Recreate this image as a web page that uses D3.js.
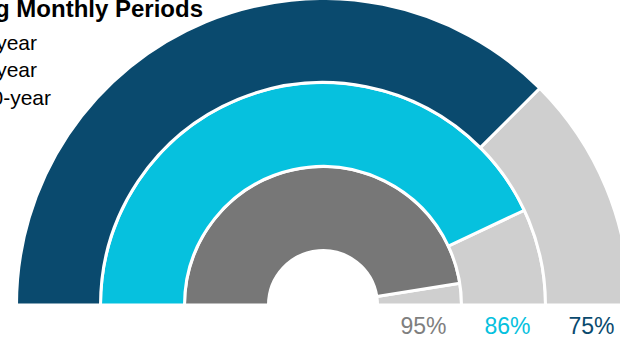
<!DOCTYPE html>
<html>
<head>
<meta charset="utf-8">
<script src="https://cdn.jsdelivr.net/npm/d3@7"></script>
<style>
  html, body { margin: 0; padding: 0; background: #fff; overflow: hidden; }
  svg { display: block; font-family: Arial, "Liberation Sans", sans-serif; }
</style>
</head>
<body>
<svg id="chart" width="620" height="339"></svg>
<script>
// rolling periods, innermost ring first
const periods = ['10-year', '3-year', '1-year'];
const positivePct = [95, 86, 75];
const ringColors = ['#777777', '#06c1de', '#0a4a6e'];
const labelColors = ['#7f7f7f', '#06c1de', '#0a4a6e'];
const legendOrder = ['1-year', '3-year', '10-year'];
const title = 'Percentage of Positive Returns over Rolling Monthly Periods';

const svg = d3.select('#chart');
const cx = 323, cy = 305;

// radial bands, one per ring
const r = d3.scaleBand().domain(periods).range([54.5, 306.5]).paddingInner(0);
// percent -> angle over a half circle, left to right
const ang = d3.scaleLinear().domain([0, 100]).range([-Math.PI / 2, Math.PI / 2]);

const arc = d3.arc();
const g = svg.append('g').attr('transform', `translate(${cx},${cy})`);

periods.forEach((p, i) => {
  const r0 = r(p), r1 = r(p) + r.bandwidth();
  // remainder
  g.append('path')
    .attr('d', arc({ innerRadius: r0, outerRadius: r1, startAngle: ang(positivePct[i]), endAngle: ang(100) }))
    .attr('fill', '#cfcfcf')
    .attr('stroke', '#fff').attr('stroke-width', 3);
  // positive share
  g.append('path')
    .attr('d', arc({ innerRadius: r0, outerRadius: r1, startAngle: ang(0), endAngle: ang(positivePct[i]) }))
    .attr('fill', ringColors[i])
    .attr('stroke', '#fff').attr('stroke-width', 3);
  // value label under the right end of the ring
  g.append('text')
    .attr('x', r0 + r.bandwidth() / 2 + 4)
    .attr('y', 29)
    .attr('text-anchor', 'middle')
    .attr('font-size', 23)
    .attr('fill', labelColors[i])
    .text(positivePct[i] + '%');
});

// title (runs off the left edge)
svg.append('text')
  .attr('x', 203).attr('y', 17)
  .attr('text-anchor', 'end')
  .attr('font-size', 24).attr('font-weight', 'bold')
  .attr('fill', '#000')
  .text(title);

// legend (swatches sit left of the visible area)
const legendY = [50, 77, 105];
legendOrder.forEach((p, i) => {
  const idx = periods.indexOf(p);
  const t = svg.append('text')
    .attr('y', legendY[i])
    .attr('font-size', 21)
    .attr('fill', '#000')
    .text(p);
  const w = t.node().getComputedTextLength();
  const endX = i === 2 ? 51 : 37;
  t.attr('x', endX - w);
  svg.append('rect')
    .attr('x', endX - w - 24).attr('y', legendY[i] - 15)
    .attr('width', 15).attr('height', 15)
    .attr('fill', ringColors[idx]);
});
</script>
</body>
</html>
